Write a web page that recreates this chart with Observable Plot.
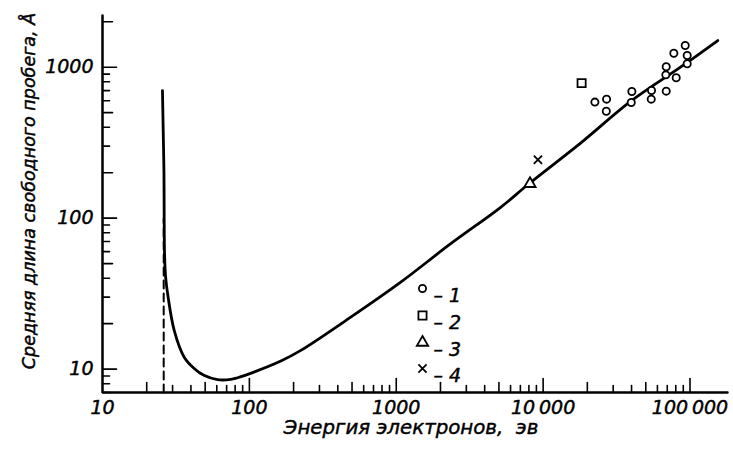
<!DOCTYPE html>
<html><head><meta charset="utf-8">
<script src="https://cdn.jsdelivr.net/npm/d3@7"></script>
<script src="https://cdn.jsdelivr.net/npm/@observablehq/plot@0.6"></script>
<style>body{margin:0;background:#fff} svg{display:block}</style>
</head><body><div id="chart"></div>
<script>
// Main curve (energy, eV → mean free path, Å)
const curveEnergy = [25.6, 25.9, 26.2, 26.3, 26.45, 26.9, 27.9, 30.8, 36.0, 42.1, 49.0, 60.8, 74.8, 83.1, 107.3, 163.8, 224, 490, 1073, 2348, 5139, 8006, 17990, 39380, 86160, 154600];
const curvePath   = [700, 381, 207, 100, 58.4, 40.7, 30.5, 18.0, 12.0, 10.1, 9.09, 8.51, 8.55, 8.77, 9.55, 11.3, 13.3, 22.1, 37.7, 67.7, 118, 169, 314, 593, 1000, 1502];
// Dashed threshold line
const thresholdEnergy = 26.1;
const thresholdPath = [7, 100];
// Experimental points
const set1Energy = [22510, 27040, 26920, 40190, 39810, 54700, 54450, 68870, 68450, 68870, 77600, 80550, 92750, 95700, 95700];
const set1Path   = [587, 614, 511, 690, 584, 701, 614, 1006, 890, 694, 1238, 851, 1392, 1195, 1053];
const set2Energy = [18280]; const set2Path = [784];
const set3Energy = [8135];  const set3Path = [169];
const set4Energy = [9218];  const set4Path = [244];
// Axes
const xMajor = [10, 100, 1000, 10000, 100000];
const xMajorLabels = ["10", "100", "1000", "10\u2009000", "100\u2009000"];
const yMajor = [10, 100, 1000];
const yMajorLabels = ["10", "100", "1000"];
const xDecades = [10, 100, 1000, 10000];
const yDecades = [1, 10, 100, 1000];
const midMult = [2, 5];
const minorMult = [3, 4, 6, 7, 8, 9];
const xTitle = "Энергия электронов,  эв";
const yTitle = "Средняя длина свободного пробега, Å";
const legendSymbols = ["circle", "square", "triangle", "times"];
const legendLabels = ["– 1", "– 2", "– 3", "– 4"];

const xDomain = [10, 180000], yDomain = [7, 2200];
const W = 733, H = 451, mL = 102, mR = 6, mT = 15, mB = 59;
const innerW = W - mL - mR, innerH = H - mT - mB;
const inX = v => v >= xDomain[0] && v <= xDomain[1];
const inY = v => v >= yDomain[0] && v <= yDomain[1];
const xMid = xDecades.flatMap(d => midMult.map(m => d * m)).filter(inX);
const xMinor = xDecades.flatMap(d => minorMult.map(m => d * m)).filter(inX);
const yMid = yDecades.flatMap(d => midMult.map(m => d * m)).filter(inY);
const yMinor = yDecades.flatMap(d => minorMult.map(m => d * m)).filter(inY);

// inward tick segments (length in px converted along the log scale)
const pxPerDecX = innerW / Math.log10(xDomain[1] / xDomain[0]);
const pxPerDecY = innerH / Math.log10(yDomain[1] / yDomain[0]);
const yTickEnd = len => yDomain[0] * Math.pow(10, len / pxPerDecY);
const xTickEnd = len => xDomain[0] * Math.pow(10, len / pxPerDecX);
const xTickSegs = [[xMajor.slice(1), 14], [xMid, 10], [xMinor, 7]].flatMap(([arr, len]) =>
  arr.flatMap(v => [{id: "x" + v, px: v, py: yDomain[0]}, {id: "x" + v, px: v, py: yTickEnd(len)}]));
const yTickSegs = [[yMajor, 14], [yMid, 10], [yMinor, 7]].flatMap(([arr, len]) =>
  arr.flatMap(v => [{id: "y" + v, px: xDomain[0], py: v}, {id: "y" + v, px: xTickEnd(len), py: v}]));
const axisSegs = [
  {id: "ax", px: xDomain[0], py: yDomain[1]}, {id: "ax", px: xDomain[0], py: yDomain[0]}, {id: "ax", px: xDomain[1], py: yDomain[0]}
];

const curve = curveEnergy.map((e, i) => ({e, p: curvePath[i]}));
const pts = (E, P) => E.map((e, i) => ({e, p: P[i]}));
const font = {fontFamily: "'DejaVu Sans', Verdana, sans-serif", fontStyle: "italic", fontWeight: "normal", fill: "black", stroke: "black", strokeWidth: 0.45};
const mk = {stroke: "black", fill: "white", strokeWidth: 1.8};

const marks = [
  Plot.line(xTickSegs.concat(yTickSegs), {x: "px", y: "py", z: "id", stroke: "black", strokeWidth: 1.6}),
  Plot.line(axisSegs, {x: "px", y: "py", z: "id", stroke: "black", strokeWidth: 2.5, strokeLinejoin: "miter"}),
  Plot.text(xMajor, {x: d => d, text: (d, i) => xMajorLabels[i], frameAnchor: "bottom", dy: 21, fontSize: 19, ...font}),
  Plot.text(yMajor, {y: d => d, text: (d, i) => yMajorLabels[i], frameAnchor: "left", textAnchor: "end", dx: -9, fontSize: 19, ...font}),
  Plot.text([xTitle], {frameAnchor: "bottom", dx: -4, dy: 41, fontSize: 19.8, ...font}),
  Plot.text([yTitle], {frameAnchor: "left", textAnchor: "middle", rotate: -90, dx: -73, dy: -13, fontSize: 17.5, ...font}),
  Plot.line(thresholdPath, {x: () => thresholdEnergy, y: d => d, stroke: "black", strokeWidth: 2, strokeDasharray: "8,5"}),
  Plot.line(curve, {x: "e", y: "p", curve: "catmull-rom", stroke: "black", strokeWidth: 2.8}),
  Plot.dot(pts(set1Energy, set1Path), {x: "e", y: "p", symbol: "circle", r: 3.6, ...mk}),
  Plot.dot(pts(set2Energy, set2Path), {x: "e", y: "p", symbol: "square", r: 4.6, ...mk}),
  Plot.dot(pts(set3Energy, set3Path), {x: "e", y: "p", symbol: "triangle", r: 4.2, ...mk}),
  Plot.dot(pts(set4Energy, set4Path), {x: "e", y: "p", symbol: "times", r: 3.8, stroke: "black", strokeWidth: 1.8})
];
const rowDy = [273, 300, 327, 353];
const symR = {circle: 3.6, square: 4.6, triangle: 4.2, times: 3.8};
legendSymbols.forEach((s, i) => {
  marks.push(Plot.dot([s], {frameAnchor: "top-left", dx: 320, dy: rowDy[i], symbol: s, r: symR[s], stroke: "black", fill: s === "times" ? "none" : "white", strokeWidth: 1.8}));
  marks.push(Plot.text([legendLabels[i]], {frameAnchor: "top-left", dx: 331, dy: rowDy[i], textAnchor: "start", fontSize: 19, ...font}));
});

const chart = Plot.plot({
  width: W, height: H,
  marginLeft: mL, marginRight: mR, marginTop: mT, marginBottom: mB,
  style: {background: "white", color: "black", overflow: "visible"},
  x: {type: "log", domain: xDomain, axis: null},
  y: {type: "log", domain: yDomain, axis: null},
  marks
});
document.getElementById("chart").appendChild(chart);
</script>
</body></html>
